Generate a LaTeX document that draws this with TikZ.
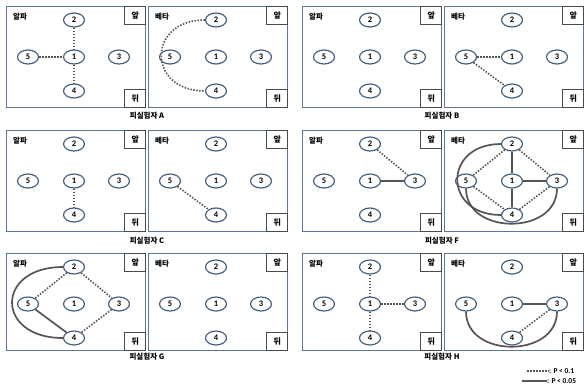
\documentclass[tikz,border=0pt]{standalone}
\usepackage{fontspec}
\setmainfont{Carlito}
\newfontfamily\kr{Noto Sans CJK KR}
\usepackage{xcolor}
\usepackage{tikz}
\usetikzlibrary{positioning, shapes.geometric}
\definecolor{PanelBlue}{HTML}{5F7896}
\definecolor{SpotBlue}{HTML}{45607F}
\definecolor{BoxGray}{HTML}{4A4A4A}
\definecolor{EdgeGray}{HTML}{555555}

% one panel: name, left x, top y, height, tag text
\newcommand{\subjpanel}[5]{%
  \node[panel, minimum height=#4pt, anchor=north west] (#1) at (#2,-#3) {};
  \node[corner, anchor=north east] (#1-front) at (#1.north east) {앞};
  \node[corner, anchor=south east] (#1-back) at (#1.south east) {뒤};
  \begin{scope}[shift={(#2,-#3)}]
    \node[tag, anchor=west] (#1-tag) at (7,-11) {#5};
    \node[spot] (#1-2) at (68,-14) {2};
    \node[spot] (#1-5) at (22,-51) {5};
    \node[spot] (#1-1) at (68,-51) {1};
    \node[spot] (#1-3) at (113,-51) {3};
    \node[spot] (#1-4) at (68,-85) {4};
  \end{scope}
}

\begin{document}
\begin{tikzpicture}[
    x=1pt, y=1pt,
    panel/.style={draw=PanelBlue, line width=1.3pt, minimum width=139pt, inner sep=0pt},
    corner/.style={draw=BoxGray, line width=1pt, minimum width=21pt, minimum height=18pt, inner sep=0pt, font=\kr\bfseries\fontsize{8}{8}\selectfont},
    tag/.style={inner sep=0pt, font=\kr\bfseries\fontsize{7.5}{7.5}\selectfont},
    spot/.style={ellipse, draw=SpotBlue, line width=1.2pt, minimum width=21pt, minimum height=14pt, inner sep=0pt, fill=white, font=\bfseries\fontsize{8.5}{8.5}\selectfont},
    subj/.style={inner sep=0pt, font=\kr\bfseries\fontsize{7.5}{7.5}\selectfont},
    weak/.style={draw=EdgeGray, line width=1.6pt, dash pattern=on 1.5pt off 1.5pt},
    strong/.style={draw=EdgeGray, line width=1.7pt},
    legtext/.style={inner sep=0pt, font=\bfseries\fontsize{7.5}{7.5}\selectfont}
]
\useasboundingbox (0,0) rectangle (584,-386);

% --- row 1 ---
\subjpanel{aa}{6}{6}{101}{알파}
\subjpanel{ab}{148}{6}{101}{베타}
\subjpanel{ba}{302}{6}{101}{알파}
\subjpanel{bb}{444}{6}{101}{베타}
\node[subj] (subjA) at (147,-116) {피실험자 A};
\node[subj] (subjB) at (442,-116) {피실험자 B};

% --- row 2 ---
\subjpanel{ca}{6}{130}{101}{알파}
\subjpanel{cb}{148}{130}{101}{베타}
\subjpanel{fa}{302}{130}{101}{알파}
\subjpanel{fb}{444}{130}{101}{베타}
\node[subj] (subjC) at (147,-241) {피실험자 C};
\node[subj] (subjF) at (442,-241) {피실험자 F};

% --- row 3 ---
\subjpanel{ga}{6}{253}{97}{알파}
\subjpanel{gb}{148}{253}{97}{베타}
\subjpanel{ha}{302}{253}{97}{알파}
\subjpanel{hb}{444}{253}{97}{베타}
\node[subj] (subjG) at (147,-357) {피실험자 G};
\node[subj] (subjH) at (442,-357) {피실험자 H};

% subject A
\draw[weak] (aa-5) -- (aa-1);
\draw[weak] (aa-2) -- (aa-1);
\draw[weak] (aa-1) -- (aa-4);
\draw[weak] (ab-2.west) to[out=180, in=180, looseness=2.1] (ab-4.west);

% subject B
\draw[weak] (bb-5) -- (bb-1);
\draw[weak] (bb-5) -- (bb-4);

% subject C
\draw[weak] (ca-1) -- (ca-4);
\draw[weak] (cb-5) -- (cb-4);

% subject F
\draw[weak] (fa-2) -- (fa-3);
\draw[strong] (fa-1) -- (fa-3);
\draw[strong] (fb-2) -- (fb-1);
\draw[strong] (fb-1) -- (fb-4);
\draw[strong] (fb-1) -- (fb-3);
\draw[weak] (fb-2) -- (fb-5);
\draw[weak] (fb-2) -- (fb-3);
\draw[weak] (fb-5) -- (fb-4);
\draw[weak] (fb-4) -- (fb-3);
\draw[strong] (fb-2.west) to[out=180, in=180, looseness=2.1] (fb-4.west);
\draw[strong] (fb-5.south) to[out=-90, in=-90, looseness=1.32] (fb-3.south);

% subject G
\draw[weak] (ga-2) -- (ga-5);
\draw[weak] (ga-2) -- (ga-3);
\draw[weak] (ga-3) -- (ga-4);
\draw[strong] (ga-5) -- (ga-4);
\draw[strong] (ga-2.west) to[out=180, in=180, looseness=2.45] (ga-4.west);

% subject H
\draw[weak] (ha-2) -- (ha-1);
\draw[weak] (ha-1) -- (ha-4);
\draw[weak] (ha-1) -- (ha-3);
\draw[strong] (hb-1) -- (hb-3);
\draw[weak] (hb-3) -- (hb-4);
\draw[strong] (hb-5.south) to[out=-90, in=-90, looseness=1.32] (hb-3.south);

% legend
\node[legtext, anchor=west] (legweak) at (549,-371) {: P < 0.1};
\node[legtext, anchor=west] (legstrong) at (547,-381) {: P < 0.05};
\coordinate (legweak-start) at (527,-371);
\coordinate (legstrong-start) at (522,-381);
\draw[weak] (legweak-start) -- (legweak.west);
\draw[strong] (legstrong-start) -- (legstrong.west);
\end{tikzpicture}
\end{document}
